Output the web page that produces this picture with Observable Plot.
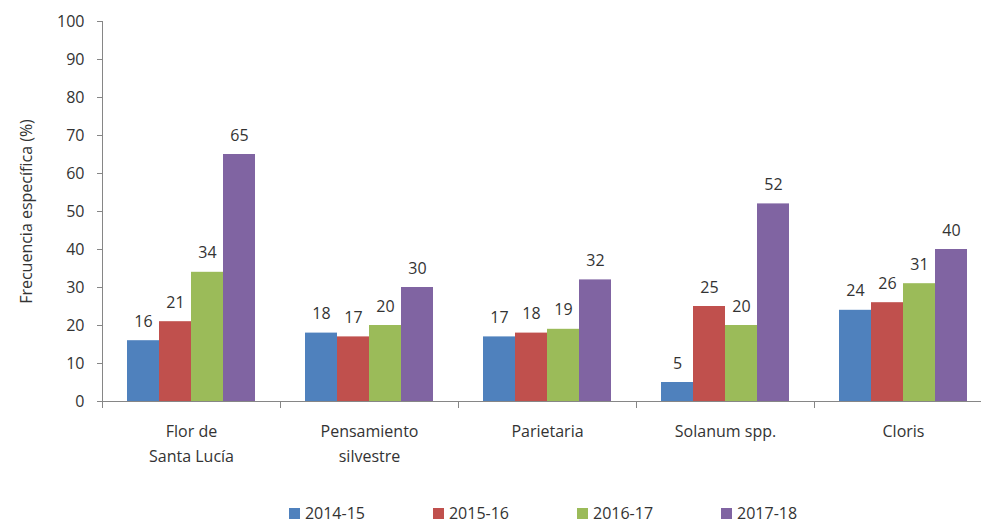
<!DOCTYPE html>
<html><head><meta charset="utf-8">
<script src="https://cdn.jsdelivr.net/npm/d3@7"></script>
<script src="https://cdn.jsdelivr.net/npm/@observablehq/plot@0.6"></script>
<style>
html,body{margin:0;background:#fff;font-family:"Open Sans",sans-serif;overflow:hidden;}
#chart{width:981px;background:#fff;}
#legend{display:flex;justify-content:center;align-items:center;padding-left:105px;box-sizing:border-box;width:981px;height:22px;margin-top:10px;font-size:16px;line-height:22px;color:#333;}
#legend .item{display:flex;align-items:center;margin-right:68px;white-space:nowrap;}
#legend .item:last-child{margin-right:0;}
#legend .sw{width:11px;height:11px;margin-right:5px;display:inline-block;}
</style></head><body><div id="chart"></div>
<script>
const categories = ["Flor de\nSanta Lucía", "Pensamiento\nsilvestre", "Parietaria", "Solanum spp.", "Cloris"];
const years = ["2014-15", "2015-16", "2016-17", "2017-18"];
const v2014 = [16, 18, 17, 5, 24];
const v2015 = [21, 17, 18, 25, 26];
const v2016 = [34, 20, 19, 20, 31];
const v2017 = [65, 30, 32, 52, 40];
const yTicks = [0, 10, 20, 30, 40, 50, 60, 70, 80, 90, 100];
const colors = ["#4F81BD", "#C0504D", "#9BBB59", "#8064A2"];
const yLabel = "Frecuencia específica (%)";

const series = [v2014, v2015, v2016, v2017];
const data = categories.flatMap((c, i) => years.map((y, j) => ({category: c, year: y, value: series[j][i]})));

const chart = Plot.plot({
  width: 981, height: 492,
  marginLeft: 102, marginRight: -11, marginTop: 21, marginBottom: 91,
  style: {fontFamily: "'Open Sans', sans-serif", fontSize: "16px", color: "#333", background: "#fff"},
  fx: {domain: categories, padding: 0, label: null},
  x: {domain: years, paddingInner: 0, paddingOuter: 0.76, axis: null},
  y: {domain: [0, 100], label: null},
  color: {domain: years, range: colors},
  marks: [
    Plot.barY(data, {fx: "category", x: "year", y: "value", fill: "year"}),
    Plot.text(data, {fx: "category", x: "year", y: "value", text: d => String(d.value), dy: -19, fill: "#333", fontSize: 16}),
    Plot.ruleY([0], {stroke: "#868686"}),
    Plot.frame({anchor: "left", facetAnchor: "left", stroke: "#868686"}),
    Plot.frame({anchor: "left", stroke: "#868686", insetTop: 380, insetBottom: -6}),
    Plot.axisY({ticks: yTicks, tickSize: 5, tickPadding: 13, stroke: "#868686", fill: "#333", label: yLabel, labelAnchor: "center", labelOffset: 82, labelArrow: false}),
    Plot.axisFx({anchor: "bottom", tickSize: 0, tickPadding: 18, lineHeight: 1.56, label: null, fill: "#333"})
  ]
});
const root = document.getElementById("chart");
root.appendChild(chart);
const colorScale = chart.scale("color");
const legend = document.createElement("div");
legend.id = "legend";
colorScale.domain.forEach((d, i) => {
  const item = document.createElement("span");
  item.className = "item";
  const sw = document.createElement("span");
  sw.className = "sw";
  sw.style.background = colorScale.range[i];
  const t = document.createElement("span");
  t.textContent = d;
  item.appendChild(sw);
  item.appendChild(t);
  legend.appendChild(item);
});
root.appendChild(legend);
</script>
</body></html>
